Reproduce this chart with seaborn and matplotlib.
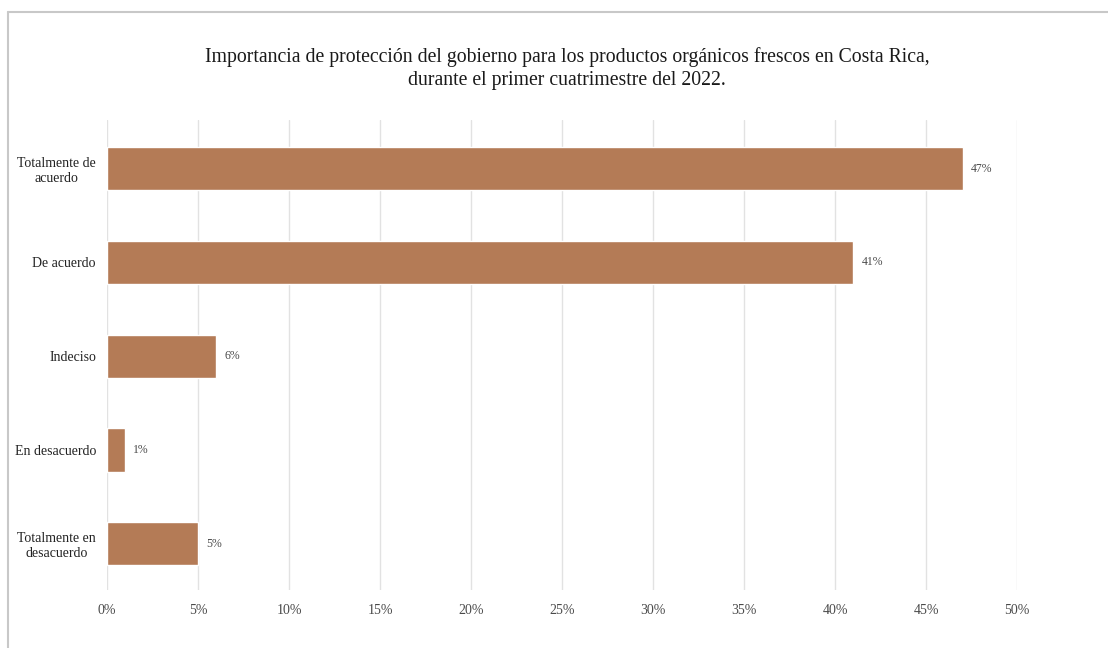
import warnings
warnings.filterwarnings("ignore")

import matplotlib
matplotlib.use("Agg")
import matplotlib.pyplot as plt
from matplotlib.lines import Line2D
from matplotlib.ticker import FuncFormatter
import seaborn as sns
import pandas as pd

# Data
categories = ["Totalmente de\nacuerdo", "De acuerdo", "Indeciso",
              "En desacuerdo", "Totalmente en\ndesacuerdo"]
shares = [0.47, 0.41, 0.06, 0.01, 0.05]
x_ticks = [0.00, 0.05, 0.10, 0.15, 0.20, 0.25, 0.30, 0.35, 0.40, 0.45, 0.50]

df = pd.DataFrame({"Respuesta": categories, "Porcentaje": shares})

sns.set_style("white")
plt.rcParams['font.family'] = ['Liberation Serif', 'DejaVu Serif']

fig = plt.figure(figsize=(11.08, 6.48), dpi=100)
ax = fig.add_axes([0.0966, 0.09, 0.8214, 0.725])

sns.barplot(data=df, x="Porcentaje", y="Respuesta", orient="h",
            color="#B47B56", width=0.46, saturation=1, ax=ax, zorder=3)

# value labels next to each bar
for i, v in enumerate(shares):
    ax.text(v + 0.0045, i, f"{v * 100:.0f}%", va="center", ha="left",
            fontsize=8.5, color="#4a4a4a")

ax.set_xlim(0, 0.5)
ax.set_ylim(4.49, -0.52)
ax.set_xticks(x_ticks)
ax.xaxis.set_major_formatter(FuncFormatter(lambda v, _: f"{v * 100:.0f}%"))
ax.grid(axis="x", color="#E2E2E2", linewidth=1, zorder=0)
ax.set_xlabel("")
ax.set_ylabel("")
for s in ax.spines.values():
    s.set_visible(False)
ax.tick_params(axis="x", length=0, pad=10, labelsize=10, labelcolor="#4a4a4a")
ax.tick_params(axis="y", length=0, pad=8, labelsize=10, labelcolor="#222222")
for lbl in ax.get_yticklabels():
    lbl.set_multialignment("center")

fig.text(0.512, 0.894,
         "Importancia de protección del gobierno para los productos orgánicos frescos en Costa Rica,\n"
         "durante el primer cuatrimestre del 2022.",
         ha="center", va="center", fontsize=14.2, color="#1a1a1a", linespacing=1.3)

# light frame line along the top and left of the image
fig.add_artist(Line2D([8 / 1108, 1.0], [1 - 12 / 648, 1 - 12 / 648],
                      transform=fig.transFigure, color="#C8C8C8", linewidth=1.5))
fig.add_artist(Line2D([8 / 1108, 8 / 1108], [0.0, 1 - 12 / 648],
                      transform=fig.transFigure, color="#C8C8C8", linewidth=1.5))

fig.savefig("out.png", dpi=100)
